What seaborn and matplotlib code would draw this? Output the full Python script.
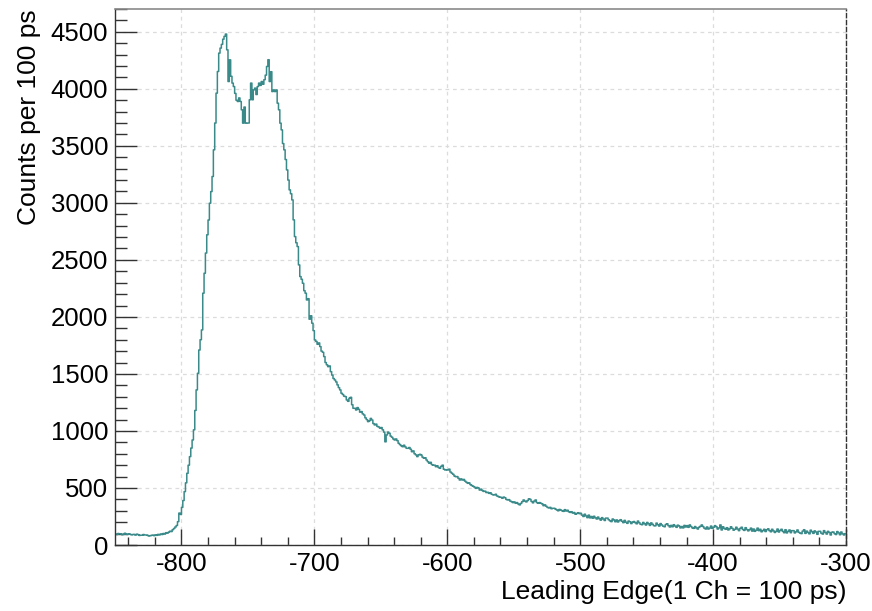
import numpy as np
import pandas as pd
import matplotlib
matplotlib.use("Agg")
import matplotlib.pyplot as plt
from matplotlib.ticker import MultipleLocator
import seaborn as sns

# Leading-edge histogram: one bin per channel, left edges from -850 to -301
first_channel = -850
counts = [
    # -850 .. -811  flat pre-trigger baseline
    96, 92, 101, 98, 99, 90, 94, 103, 95, 92,
    98, 94, 89, 92, 93, 87, 95, 91, 84, 86,
    86, 92, 88, 88, 85, 79, 82, 84, 87, 82,
    89, 85, 93, 88, 97, 92, 101, 96, 108, 104,
    # -810 .. -771  rising edge
    112, 121, 118, 134, 145, 158, 171, 205, 280, 268,
    330, 390, 468, 545, 629, 700, 775, 850, 921, 1010,
    1180, 1360, 1506, 1710, 1800, 1886, 2208, 2383, 2560, 2720,
    2850, 2997, 3099, 3231, 3465, 3700, 3962, 4152, 4313, 4357,
    # -770 .. -711  double peak
    4390, 4435, 4460, 4480, 4342, 4064, 4254, 4110, 4050, 4020,
    3960, 3900, 3889, 3920, 3889, 3816, 3699, 3840, 3699, 3700,
    3700, 3904, 4050, 3904, 3991, 4006, 3950, 4020, 4050, 4030,
    4064, 4040, 4080, 4120, 4196, 4255, 4064, 4150, 3976, 3990,
    3976, 3990, 3874, 3816, 3699, 3640, 3520, 3465, 3380, 3289,
    3200, 3114, 3080, 3026, 2851, 2704, 2650, 2617, 2456, 2354,
    # -710 .. -601  falling edge into the tail
    2330, 2295, 2230, 2208, 2149, 2160, 1980, 2010, 1945, 1880,
    1798, 1785, 1760, 1772, 1740, 1700, 1690, 1652, 1600, 1580,
    1564, 1570, 1520, 1490, 1460, 1447, 1430, 1404, 1380, 1360,
    1331, 1320, 1305, 1301, 1272, 1260, 1287, 1295, 1230, 1199,
    1199, 1184, 1205, 1190, 1165, 1170, 1150, 1140, 1115, 1100,
    1082, 1090, 1110, 1096, 1065, 1053, 1060, 1040, 1035, 1024,
    1030, 1010, 990, 905, 965, 990, 980, 955, 945, 930,
    921, 930, 915, 892, 880, 870, 862, 875, 860, 848,
    848, 855, 840, 818, 825, 800, 790, 775, 790, 795,
    789, 770, 761, 765, 745, 730, 717, 725, 705, 700,
    700, 687, 695, 680, 673, 690, 700, 665, 658, 660,
    # -600 .. -501
    658, 665, 640, 630, 620, 605, 599, 600, 585, 570,
    580, 570, 575, 560, 550, 541, 545, 530, 522, 515,
    508, 497, 505, 500, 482, 490, 478, 470, 472, 460,
    462, 453, 458, 445, 440, 439, 445, 430, 425, 420,
    418, 410, 420, 415, 400, 395, 398, 385, 380, 372,
    378, 366, 372, 360, 352, 365, 380, 395, 385, 378,
    390, 405, 400, 382, 370, 385, 395, 372, 366, 372,
    366, 360, 345, 352, 340, 330, 325, 330, 318, 322,
    322, 315, 308, 300, 312, 307, 300, 295, 310, 298,
    305, 292, 286, 292, 280, 285, 270, 276, 283, 275,
    # -500 .. -401
    278, 262, 250, 270, 255, 240, 262, 238, 250, 235,
    252, 238, 228, 245, 230, 218, 240, 228, 215, 236,
    236, 222, 212, 205, 228, 219, 204, 220, 202, 214,
    222, 208, 196, 216, 200, 190, 210, 204, 188, 200,
    206, 196, 186, 210, 195, 182, 178, 198, 186, 175,
    198, 186, 172, 194, 182, 170, 168, 192, 178, 166,
    188, 176, 165, 160, 180, 186, 170, 158, 172, 160,
    178, 166, 155, 174, 166, 150, 162, 150, 172, 158,
    170, 155, 176, 162, 150, 146, 162, 150, 140, 156,
    164, 176, 162, 148, 140, 158, 140, 148, 166, 146,
    # -400 .. -301
    156, 170, 160, 140, 150, 176, 132, 160, 146, 138,
    152, 132, 142, 160, 146, 130, 138, 156, 140, 126,
    146, 156, 136, 128, 152, 136, 124, 134, 148, 122,
    140, 120, 130, 148, 126, 138, 116, 126, 138, 118,
    134, 142, 126, 116, 138, 124, 110, 120, 140, 114,
    128, 138, 120, 108, 134, 106, 120, 132, 108, 126,
    126, 106, 116, 132, 112, 104, 100, 122, 134, 102,
    122, 110, 98, 130, 116, 102, 124, 114, 94, 120,
    120, 104, 96, 126, 110, 96, 120, 110, 88, 112,
    114, 100, 92, 118, 106, 90, 114, 98, 88, 100,
]
x_ticks = [-800, -700, -600, -500, -400, -300]
y_ticks = [0, 500, 1000, 1500, 2000, 2500, 3000, 3500, 4000, 4500]
x_label = "Leading Edge(1 Ch = 100 ps)"
y_label = "Counts per 100 ps"

channels = np.arange(first_channel, first_channel + len(counts))
df = pd.DataFrame({"channel": channels + 0.5, "counts": counts})
last_edge = first_channel + len(counts)

sns.set_style("white")
plt.rcParams["font.family"] = ["Liberation Sans", "DejaVu Sans"]
plt.rcParams["axes.unicode_minus"] = False
plt.rcParams["text.color"] = "black"
plt.rcParams["axes.labelcolor"] = "black"
plt.rcParams["xtick.color"] = "black"
plt.rcParams["ytick.color"] = "black"

fig = plt.figure(figsize=(8.72, 6.11), dpi=100)
ax = fig.add_axes([0.1319, 0.108, 0.8383, 0.8773])

line_color = "#3a8a8a"
sns.histplot(data=df, x="channel", weights="counts", binwidth=1,
             binrange=(first_channel, last_edge),
             element="step", fill=False, color=line_color,
             linewidth=1.1, ax=ax)

ax.set_xlim(-850, -300)
ax.set_ylim(0, 4700)
ax.set_xticks(x_ticks)
ax.set_yticks(y_ticks)
ax.xaxis.set_minor_locator(MultipleLocator(20))
ax.yaxis.set_minor_locator(MultipleLocator(100))

ax.grid(True, which="major", color="#dcdcdc", linestyle=(0, (3, 3)),
        linewidth=0.9)
ax.set_axisbelow(True)

ax.tick_params(axis="x", which="major", direction="in", length=11.5,
               width=1.0, color="#333333", labelsize=18.5, pad=5,
               bottom=True, top=False)
ax.tick_params(axis="x", which="minor", direction="in", length=5.8,
               width=1.0, color="#333333", bottom=True, top=False)
ax.tick_params(axis="y", which="major", direction="in", length=16,
               width=1.0, color="#333333", labelsize=18.5, pad=5,
               left=True, right=False)
ax.tick_params(axis="y", which="minor", direction="in", length=8.6,
               width=1.0, color="#333333", left=True, right=False)

for side in ("left", "bottom"):
    ax.spines[side].set_color("#333333")
    ax.spines[side].set_linewidth(1.0)
ax.spines["top"].set_color("#8a8a8a")
ax.spines["top"].set_linewidth(1.2)
ax.spines["right"].set_color("#333333")
ax.spines["right"].set_linestyle((0, (3, 2)))
ax.spines["right"].set_linewidth(1.0)

ax.set_xlabel(x_label, fontsize=19, loc="right", labelpad=3)
ax.set_ylabel(y_label, fontsize=19, loc="top", labelpad=7)

fig.savefig("out.png", dpi=100)
